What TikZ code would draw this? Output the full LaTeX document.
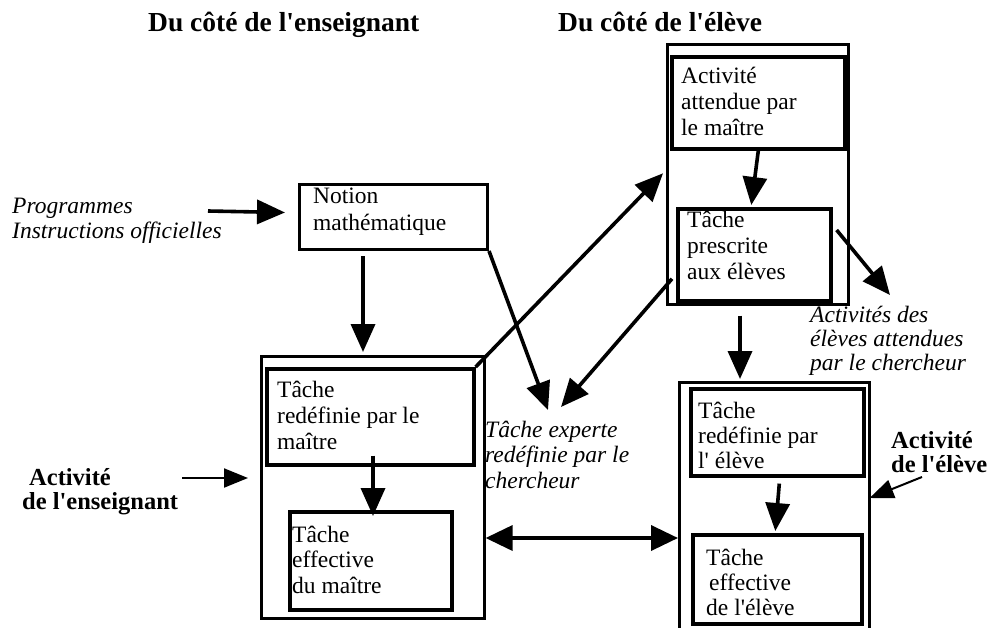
\documentclass[tikz,border=0pt]{standalone}
\usepackage{fontspec}
\setmainfont{Liberation Serif}[Ligatures=TeXOff]
\usetikzlibrary{arrows.meta,calc}
\newcommand{\mlines}[1]{\begin{tabular}[t]{@{}l@{}}#1\end{tabular}}
\begin{document}
\begin{tikzpicture}[x=1pt,y=-1pt,
  outerbox/.style={draw, line width=2.6pt, inner sep=0pt, anchor=north west},
  innerbox/.style={draw, line width=3.6pt, inner sep=0pt, anchor=north west},
  notionbox/.style={draw, line width=3pt, inner sep=0pt, anchor=north west},
  txt/.style={anchor=base west, inner sep=0pt, font=\fontsize{23.5}{26}\selectfont},
  itxt/.style={anchor=base west, inner sep=0pt, font=\fontsize{23.5}{25}\selectfont\itshape},
  btxt/.style={anchor=base west, inner sep=0pt, font=\fontsize{24.5}{24}\selectfont\bfseries},
  head/.style={anchor=base west, inner sep=0pt, font=\fontsize{27.5}{30}\selectfont\bfseries},
  bigarr/.style={line width=3.6pt, -{Triangle[length=28pt,width=24pt]}},
  dblarr/.style={line width=3.6pt, {Triangle[length=27pt,width=25pt]}-{Triangle[length=27pt,width=25pt]}},
  thinarr/.style={line width=2pt, -{Triangle[length=24pt,width=19pt]}}]
\useasboundingbox (0,0) rectangle (987,627);
\clip (0,0) rectangle (987,627);
\fill[white] (0,0) rectangle (987,627);

% headers
\node[head] (h1) at (148,31) {Du côté de l'enseignant};
\node[head] (h2) at (558,31) {Du côté de l'élève};

% boxes
\node[notionbox, minimum width=188pt, minimum height=65pt] (notion) at (298,183) {};
\node[outerbox, minimum width=223pt, minimum height=262pt] (lo) at (260,355) {};
\node[innerbox, minimum width=207pt, minimum height=96pt] (li1) at (265,367) {};
\node[innerbox, minimum width=162pt, minimum height=98pt] (li2) at (288,510) {};
\node[outerbox, minimum width=181pt, minimum height=260pt] (rto) at (666,43) {};
\node[innerbox, minimum width=173pt, minimum height=92pt] (rti1) at (670,55) {};
\node[innerbox, minimum width=153pt, minimum height=92pt] (rti2) at (676,207) {};
\node[outerbox, minimum width=190pt, minimum height=270pt] (rbo) at (678,381) {};
\node[innerbox, minimum width=173pt, minimum height=87pt] (rbi1) at (689,387) {};
\node[innerbox, minimum width=169pt, minimum height=89pt] (rbi2) at (691,533) {};

% box texts
\node[txt, font=\fontsize{23.5}{27}\selectfont] (tnotion) at (313,203) {\mlines{Notion\\mathématique}};
\node[txt] (tli1) at (277,397) {\mlines{Tâche\\redéfinie par le\\maître}};
\node[txt, font=\fontsize{23.5}{25.5}\selectfont] (tli2) at (292,542) {\mlines{Tâche\\effective\\du maître}};
\node[txt] (trti1) at (681,83) {\mlines{Activité\\attendue par\\le maître}};
\node[txt] (trti2) at (687,227) {\mlines{Tâche\\prescrite\\aux élèves}};
\node[txt, font=\fontsize{23.5}{25}\selectfont] (trbi1) at (698,418) {\mlines{Tâche\\redéfinie par\\l' élève}};
\node[txt, font=\fontsize{23.5}{25}\selectfont] (trbi2) at (706,565) {\mlines{Tâche\\\hspace{3pt}effective\\de l'élève}};

% free labels
\node[itxt] (prog) at (12,213) {\mlines{Programmes\\Instructions officielles}};
\node[itxt, font=\fontsize{23.5}{25.5}\selectfont\itshape] (expert) at (485,437) {\mlines{Tâche experte\\redéfinie par le\\chercheur}};
\node[itxt, font=\fontsize{23.5}{24}\selectfont\itshape] (attch) at (810,322) {\mlines{Activités des\\élèves attendues\\par le chercheur}};
\node[btxt] (actens) at (22,485) {\mlines{\hspace{7pt}Activité\\de l'enseignant}};
\node[btxt] (actel) at (891,448) {\mlines{Activité\\de l'élève}};

% free ends
\coordinate (progA) at (208,211);
\coordinate (expA) at (548,410);
\coordinate (expB) at (561,407);
\coordinate (actA) at (890,295);
\coordinate (ensA) at (182,478);
\coordinate (elA) at (922,477);

% connectors
\draw[bigarr] (progA) -- ($(notion.west)+(-13,-4.5)$);
\draw[bigarr] ($(notion.south west)+(65,5)$) -- ($(lo.north west)+(103,-3)$);
\draw[bigarr] (notion.south east) -- (expA);
\draw[bigarr] (li1.north east) -- ($(rto.west)+(-3,-1)$);
\draw[bigarr] ($(rti2.west)+(-4,24)$) -- (expB);
\draw[bigarr] (rti1.south) -- ($(rti2.north)+(-3,-2)$);
\draw[bigarr] ($(rti2.north east)+(4,23)$) -- (actA);
\draw[bigarr] ($(rto.south west)+(74,10)$) -- ($(rbo.north west)+(62,-2)$);
\draw[bigarr] ($(li1.south west)+(108,-11)$) -- ($(li2.north west)+(85,6)$);
\draw[dblarr] ($(lo.north east)+(0,183)$) -- ($(rbo.north west)+(0,157)$);
\draw[bigarr] ($(rbi1.south)+(2,6)$) -- ($(rbi2.north)+(-2,-2)$);
\draw[thinarr] (ensA) -- ($(lo.north west)+(-12,123)$);
\draw[thinarr] (elA) -- ($(rbo.north east)+(-1,117)$);
\end{tikzpicture}
\end{document}
